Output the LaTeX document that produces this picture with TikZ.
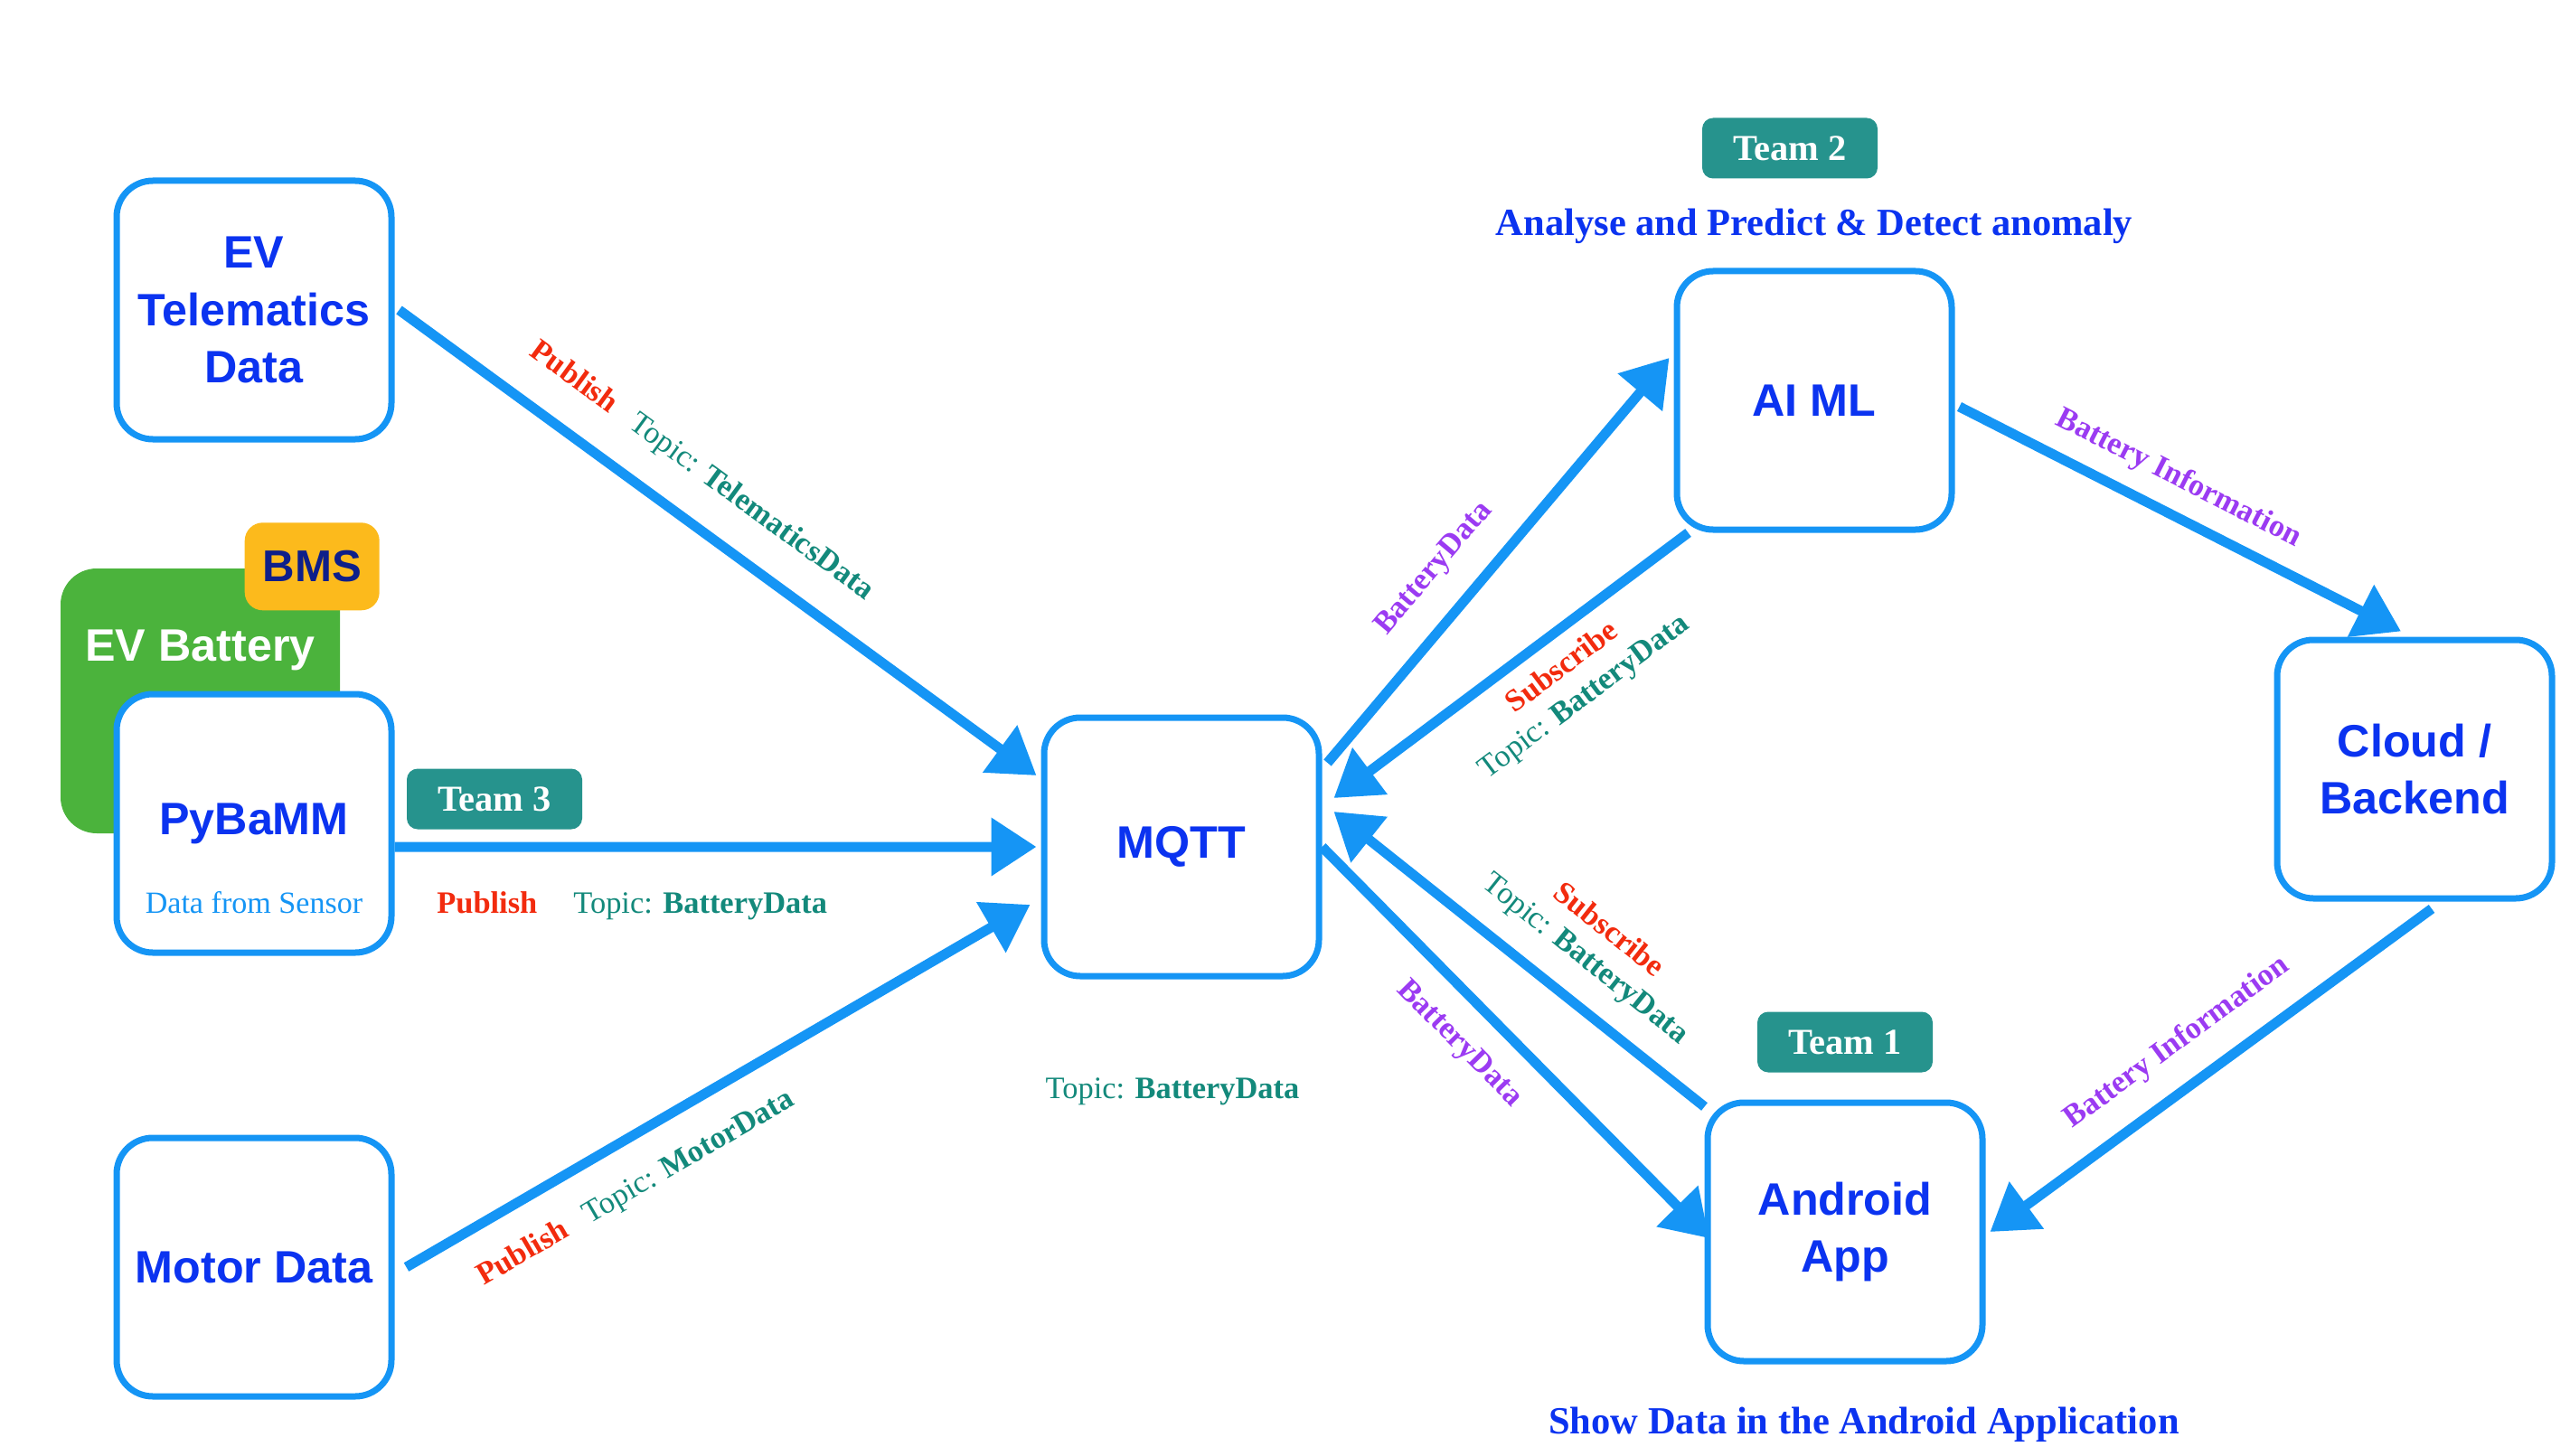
\documentclass[tikz,border=0pt]{standalone}
\usepackage{fontspec}
\setmainfont{Liberation Serif}
\setsansfont{Liberation Sans}
\usetikzlibrary{arrows.meta,positioning}

\definecolor{boxblue}{HTML}{1595F5}
\definecolor{txtblue}{HTML}{0B33F0}
\definecolor{teamteal}{HTML}{26938D}
\definecolor{topicteal}{HTML}{13897B}
\definecolor{pubred}{HTML}{F22B0E}
\definecolor{infopurple}{HTML}{9B3BF2}
\definecolor{batgreen}{HTML}{4BB33C}
\definecolor{bmsyellow}{HTML}{FCBA1C}
\definecolor{bmsnavy}{HTML}{0E1F8A}

\newcommand{\pubtxt}{\textcolor{pubred}{\textbf{Publish}}}
\newcommand{\subtxt}{\textcolor{pubred}{\textbf{Subscribe}}}
\newcommand{\topictxt}[1]{\textcolor{topicteal}{Topic: \textbf{#1}}}
\newcommand{\infotxt}[1]{\textcolor{infopurple}{\textbf{#1}}}

\begin{document}
\begin{tikzpicture}[node distance=2cm,on grid,auto,
    >={Triangle[length=0.5cm,width=0.62cm]},
    block/.style={draw=boxblue,line width=0.07cm,rounded corners=0.4cm,fill=white,
      minimum width=3.04cm,minimum height=2.86cm,align=center,text=txtblue,
      font=\sffamily\bfseries\fontsize{14.3}{18}\selectfont},
    battery/.style={fill=batgreen,rounded corners=0.4cm,minimum width=3.09cm,minimum height=2.93cm},
    bms/.style={fill=bmsyellow,rounded corners=0.2cm,minimum width=1.49cm,minimum height=0.97cm,
      text=bmsnavy,font=\sffamily\bfseries\fontsize{14}{16}\selectfont},
    team/.style={fill=teamteal,rounded corners=0.12cm,minimum width=1.94cm,minimum height=0.67cm,
      text=white,font=\bfseries\fontsize{11.5}{13}\selectfont},
    note/.style={text=txtblue,font=\bfseries\fontsize{12.1}{14}\selectfont},
    lblfont/.style={font=\fontsize{9.8}{11.5}\selectfont},
    tag/.style={lblfont,sloped,inner sep=1pt,align=center},
    flow/.style={->,color=boxblue,line width=0.11cm}]

  \useasboundingbox (0,0) rectangle (28.43,-16.11);

  % EV battery pack with BMS badge
  \node[battery] (battery) at (2.215,-7.755) {};
  \node[bms] (bms) at ([xshift=-0.315cm,yshift=0.015cm]battery.north east) {BMS};
  \node[text=white,font=\sffamily\bfseries\fontsize{14.3}{16}\selectfont] (batterylbl) at ([yshift=-0.91cm]battery.north) {EV Battery};

  % sources
  \node[block,
        label={[inner sep=0pt,yshift=0.72cm,text=boxblue,font=\rmfamily\mdseries\fontsize{9.7}{11}\selectfont]south:Data from Sensor}]
        (pybamm) at (2.81,-9.11) {PyBaMM};
  \node[block] (tele) [above=5.68cm of pybamm] {EV\\Telematics\\Data};
  \node[block] (motor) [below=4.91cm of pybamm] {Motor Data};

  % broker and consumers
  \node[block] (mqtt) at (13.07,-9.37) {MQTT};
  \node[block] (aiml) [above right=4.94cm and 7cm of mqtt] {AI ML};
  \node[block] (android) [below right=4.26cm and 7.34cm of mqtt] {Android\\App};
  \node[block] (cloud) [below right=4.08cm and 6.64cm of aiml] {Cloud /\\Backend};

  % teams and notes
  \node[team] (team3) [above right=0.27cm and 2.66cm of pybamm] {Team 3};
  \node[team] (team2) [above left=2.79cm and 0.27cm of aiml] {Team 2};
  \node[team] (team1) [above=2.10cm of android] {Team 1};
  \node[note] (aimlnote) [above=1.93cm of aiml] {Analyse and Predict \& Detect anomaly};
  \node[note] (appnote) [below right=2.13cm and 0.21cm of android] {Show Data in the Android Application};
  \node[lblfont] (mqttnote) [below left=2.71cm and 0.10cm of mqtt] {\topictxt{BatteryData}};

  \path[flow]
      ([xshift=0.05cm]tele.east) edge node[tag,above=8pt,pos=0.43] {\pubtxt\hspace{0.25cm}\topictxt{TelematicsData}} ([xshift=-0.05cm,yshift=0.79cm]mqtt.west)
      ([yshift=-0.26cm]pybamm.east) edge node[tag,below=11.5pt,pos=0.37] {\pubtxt\hspace{0.4cm}\topictxt{BatteryData}} ([xshift=-0.05cm]mqtt.west)
      ([xshift=0.13cm]motor.east) edge node[tag,below=8pt,pos=0.33] {\pubtxt\hspace{0.25cm}\topictxt{MotorData}} ([xshift=-0.12cm,yshift=-0.64cm]mqtt.west)
      ([xshift=0.06cm,yshift=0.93cm]mqtt.east) edge node[tag,above=6.8pt,pos=0.41] {\infotxt{BatteryData}} ([xshift=-0.05cm,yshift=0.47cm]aiml.west)
      ([xshift=0.16cm]aiml.south west) edge node[tag,below=3.5pt,pos=0.41] {\subtxt\\\topictxt{BatteryData}} ([xshift=0.13cm,yshift=0.54cm]mqtt.east)
      ([xshift=0.05cm,yshift=-0.07cm]aiml.east) edge node[tag,above=4pt,pos=0.46] {\infotxt{Battery Information}} ([xshift=-0.15cm,yshift=0.06cm]cloud.north)
      ([xshift=0.19cm,yshift=-0.08cm]cloud.south) edge node[tag,above=6.2pt,pos=0.52] {\infotxt{Battery Information}} ([xshift=0.05cm]android.east)
      (mqtt.east) edge node[tag,below=6.2pt,pos=0.43] {\infotxt{BatteryData}} ([xshift=0.05cm,yshift=-0.07cm]android.west)
      ([yshift=-0.08cm]android.north west) edge node[tag,above=5.8pt,pos=0.39] {\subtxt\\\topictxt{BatteryData}} ([xshift=0.13cm,yshift=0.39cm]mqtt.east)
  ;
\end{tikzpicture}
\end{document}
